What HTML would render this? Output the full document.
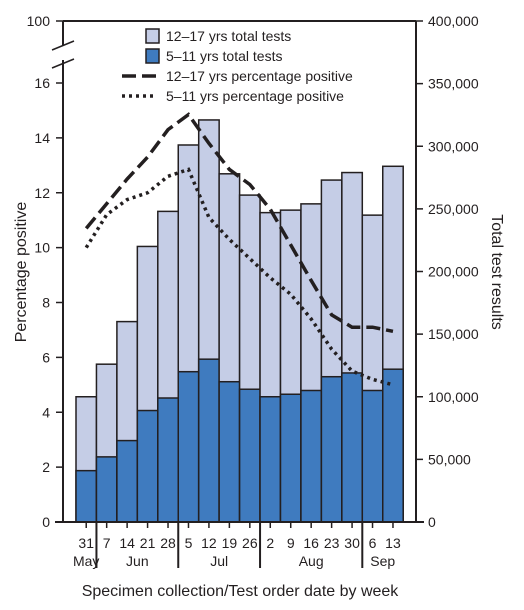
<!DOCTYPE html>
<html><head><meta charset="utf-8"><style>
body{margin:0;background:#fff}
svg text{font-family:"Liberation Sans",sans-serif;fill:#231f20}
</style></head><body>
<svg id="c" width="524" height="605" xmlns="http://www.w3.org/2000/svg"></svg>
<script>
const weeks=["31","7","14","21","28","5","12","19","26","2","9","16","23","30","6","13"];
const totalTests=[100000,126000,160000,220000,248000,301000,321000,278000,261000,247000,249000,254000,273000,279000,245000,284000];
const tests511=[41000,52000,65000,89000,99000,120000,130000,112000,106000,100000,102000,105000,116000,119000,105000,122000];
const pct1217=[10.7,11.6,12.5,13.3,14.3,14.85,13.8,12.85,12.3,11.4,10.1,8.8,7.55,7.1,7.1,6.95];
const pct511=[10.0,11.2,11.75,12.0,12.6,12.85,11.1,10.3,9.6,8.9,8.3,7.4,6.3,5.5,5.2,5.0];
const leftTicks=[0,2,4,6,8,10,12,14,16];
const rightTicks=[0,50000,100000,150000,200000,250000,300000,350000,400000];
const months=[{n:"May",s:0,e:1},{n:"Jun",s:1,e:5},{n:"Jul",s:5,e:9},{n:"Aug",s:9,e:14},{n:"Sep",s:14,e:16}];
const NS="http://www.w3.org/2000/svg",svg=document.getElementById('c');
const X0=63,X1=416,Y0=522,YT=21,B0=76,BW=20.45;
const yL=v=>Y0-v*(Y0-83)/16;
const yR=v=>Y0-v*(Y0-YT)/400000;
const xb=i=>B0+i*BW;
const xc=i=>B0+(i+0.5)*BW;
function el(t,a,txt){const e=document.createElementNS(NS,t);for(const k in a)e.setAttribute(k,a[k]);if(txt!=null)e.textContent=txt;svg.appendChild(e);return e;}
weeks.forEach((w,i)=>{
 let r=el('rect',{x:xb(i),y:yR(totalTests[i]),width:BW,height:yR(0)-yR(totalTests[i]),fill:'#c5cde6',stroke:'#231f20','stroke-width':1.5});
 
 let r2=el('rect',{x:xb(i),y:yR(tests511[i]),width:BW,height:yR(0)-yR(tests511[i]),fill:'#3f7bbf',stroke:'#231f20','stroke-width':1.5});
 
 let t=el('text',{x:xc(i),y:548,'font-size':14,'text-anchor':'middle'},w);
 
 el('line',{x1:xc(i),x2:xc(i),y1:Y0,y2:Y0+6,stroke:'#231f20','stroke-width':1.5});
});
months.forEach(m=>{
 let t=el('text',{x:(xb(m.s)+xb(m.e))/2,y:566,'font-size':14,'text-anchor':'middle'},m.n);
 
 if(m.s>0)el('line',{x1:xb(m.s),x2:xb(m.s),y1:Y0,y2:568,stroke:'#231f20','stroke-width':2});
});
function line(vals,dash,w,name){
 const p=el('polyline',{points:vals.map((v,i)=>xc(i)+','+yL(v)).join(' '),fill:'none',stroke:'#231f20','stroke-width':w,'stroke-dasharray':dash});
 
}
line(pct1217,'14 6',3.5,'line-12-17-pct');
line(pct511,'3 4',3.5,'line-5-11-pct');
// axes
el('line',{x1:X0,x2:X0,y1:YT,y2:Y0,stroke:'#231f20','stroke-width':2});
el('line',{x1:X1,x2:X1,y1:YT,y2:Y0,stroke:'#231f20','stroke-width':2});
el('line',{x1:X0,x2:X1,y1:YT,y2:YT,stroke:'#231f20','stroke-width':2});
el('line',{x1:X0-8,x2:X1+8,y1:Y0,y2:Y0,stroke:'#231f20','stroke-width':2});
el('rect',{x:X0-2,y:46,width:4,height:14,fill:'#fff'});
el('line',{x1:52,x2:74,y1:50,y2:41,stroke:'#231f20','stroke-width':1.5});
el('line',{x1:52,x2:74,y1:68,y2:59,stroke:'#231f20','stroke-width':1.5});
leftTicks.forEach(v=>{
 el('line',{x1:X0-7,x2:X0,y1:yL(v),y2:yL(v),stroke:'#231f20','stroke-width':1.5});
 let t=el('text',{x:50,y:yL(v)+5,'font-size':14,'text-anchor':'end'},v);
 
});
el('line',{x1:X0-7,x2:X0,y1:YT,y2:YT,stroke:'#231f20','stroke-width':1.5});
el('text',{x:50,y:26,'font-size':14,'text-anchor':'end'},'100');
rightTicks.forEach(v=>{
 el('line',{x1:X1,x2:X1+7,y1:yR(v),y2:yR(v),stroke:'#231f20','stroke-width':1.5});
 let t=el('text',{x:428,y:yR(v)+5,'font-size':14},v.toLocaleString('en-US'));
 
});
let lt=el('text',{transform:'translate(26,272) rotate(-90)','font-size':16,'text-anchor':'middle'},'Percentage positive');

let rt=el('text',{transform:'translate(492,272) rotate(90)','font-size':16,'text-anchor':'middle'},'Total test results');

let xt=el('text',{x:240,y:596,'font-size':16,'text-anchor':'middle'},'Specimen collection/Test order date by week');

// legend
const lg=[['12–17 yrs total tests','#c5cde6'],['5–11 yrs total tests','#3f7bbf']];
lg.forEach((l,i)=>{
 el('rect',{x:146,y:29+i*20,width:13,height:14,fill:l[1],stroke:'#231f20','stroke-width':1.5});
 let t=el('text',{x:166,y:41+i*20,'font-size':14},l[0]);
 
});
el('line',{x1:122,x2:157,y1:76,y2:76,stroke:'#231f20','stroke-width':3.5,'stroke-dasharray':'14 6'});
let t3=el('text',{x:166,y:81,'font-size':14},'12–17 yrs percentage positive');

el('line',{x1:122,x2:157,y1:96,y2:96,stroke:'#231f20','stroke-width':3.5,'stroke-dasharray':'3 4'});
let t4=el('text',{x:166,y:101,'font-size':14},'5–11 yrs percentage positive');

</script>
</body></html>
